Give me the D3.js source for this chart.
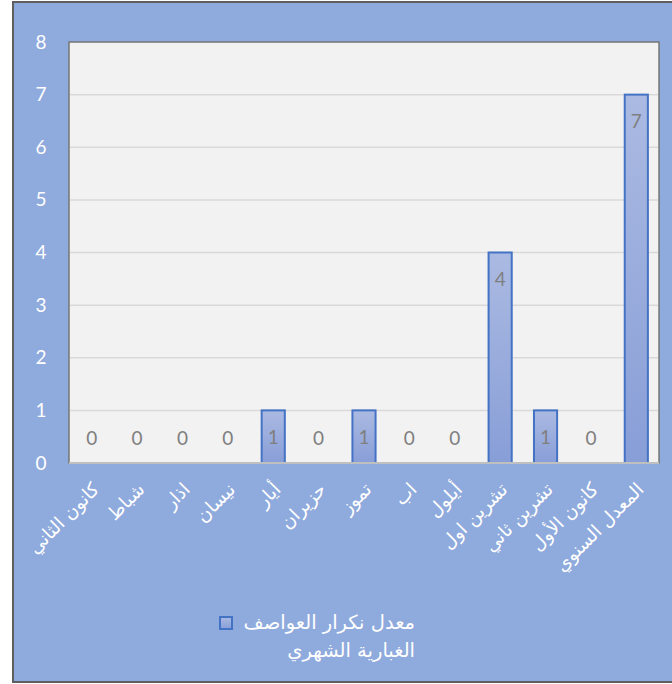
<!DOCTYPE html>
<html><head><meta charset="utf-8">
<script src="https://cdn.jsdelivr.net/npm/d3@7"></script>
<style>
html,body{margin:0;padding:0;background:#fff;}
svg{display:block;}
</style></head>
<body>
<script>
const categories = ["كانون الثاني","شباط","اذار","نيسان","أيار","حزيران","تموز","اب","أيلول","تشرين اول","تشرين ثاني","كانون الأول","المعدل السنوي"];
const values = [0,0,0,0,1,0,1,0,0,4,1,0,7];
const yTicks = [0,1,2,3,4,5,6,7,8];
const legendLines = ["معدل نكرار العواصف","الغبارية الشهري"];

(function(){
const W = 672, H = 684;
const svg = d3.select("body").append("svg").attr("width", W).attr("height", H);
const defs = svg.append("defs");
const grad = defs.append("linearGradient").attr("id","barGrad").attr("x1",0).attr("y1",0).attr("x2",0).attr("y2",1);
grad.append("stop").attr("offset","0%").attr("stop-color","#abbae2");
grad.append("stop").attr("offset","100%").attr("stop-color","#889ed7");

// chart area
svg.append("rect").attr("x",13).attr("y",2).attr("width",664).attr("height",680)
  .attr("fill","#8faadc").attr("stroke","#5f5f5f").attr("stroke-width",2);

const pL = 69, pR = 659, pT = 42, pB = 463;
const x = d3.scaleBand().domain(categories).range([pL, pR]).paddingInner(0.49).paddingOuter(0.245);
const y = d3.scaleLinear().domain([0, 8]).range([pB, pT]);

// plot area
svg.append("rect").attr("x",pL).attr("y",pT).attr("width",pR-pL).attr("height",pB-pT)
  .attr("fill","#f2f2f2").attr("stroke","#767676").attr("stroke-width",1.5);

// gridlines
svg.append("g").selectAll("line").data(yTicks.filter(d=>d>0 && d<8)).join("line")
  .attr("x1",pL+1).attr("x2",pR-1).attr("y1",d=>y(d)).attr("y2",d=>y(d))
  .attr("stroke","#d9d9d9").attr("stroke-width",1.5);

// y axis labels
const yAxis = svg.append("g").attr("transform",`translate(${pL},0)`)
  .call(d3.axisLeft(y).tickValues(yTicks).tickSize(0).tickPadding(28).tickFormat(d3.format("d")));
yAxis.select(".domain").remove();
yAxis.selectAll("text").attr("fill","#ffffff").attr("font-size","19px")
  .attr("font-family","Lato, 'Open Sans', sans-serif").attr("text-anchor","middle");

// bars
svg.append("g").selectAll("rect").data(values.map((v,i)=>({c:categories[i],v})).filter(d=>d.v>0)).join("rect")
  .attr("x",d=>x(d.c)).attr("width",x.bandwidth())
  .attr("y",d=>y(d.v)).attr("height",d=>y(0)-y(d.v))
  .attr("fill","url(#barGrad)").attr("stroke","#4472c4").attr("stroke-width",2);

// baseline
svg.append("line").attr("x1",pL).attr("x2",pR).attr("y1",pB).attr("y2",pB)
  .attr("stroke","#bfbfbf").attr("stroke-width",2);

// value labels
svg.append("g").selectAll("text").data(values.map((v,i)=>({c:categories[i],v}))).join("text")
  .attr("x",d=>x(d.c)+x.bandwidth()/2)
  .attr("y",d=>Math.min(y(d.v)+27, y(0)-25))
  .attr("dy","0.35em").attr("text-anchor","middle")
  .attr("fill","#7f7f7f").attr("font-size","19px").attr("font-family","Lato, 'Open Sans', sans-serif")
  .text(d=>d.v);

// x labels
svg.append("g").selectAll("text").data(categories).join("text")
  .attr("transform",d=>`translate(${x(d)+x.bandwidth()/2+4},${486}) rotate(-45)`)
  .attr("text-anchor","end").attr("dy","0.35em")
  .attr("fill","#ffffff").attr("font-size","18.5px").attr("font-family","'DejaVu Sans', sans-serif")
  .text(d=>d);

// legend
svg.append("rect").attr("x",220).attr("y",617).attr("width",12).attr("height",12)
  .attr("fill","url(#barGrad)").attr("stroke","#4472c4").attr("stroke-width",2);
svg.append("g").selectAll("text").data(legendLines).join("text")
  .attr("x",415).attr("y",(d,i)=>622+i*28).attr("dy","0.35em").attr("text-anchor","end")
  .attr("fill","#ffffff").attr("font-size","19.5px").attr("font-family","'DejaVu Sans', sans-serif")
  .text(d=>d);
})();
</script>
</body></html>
